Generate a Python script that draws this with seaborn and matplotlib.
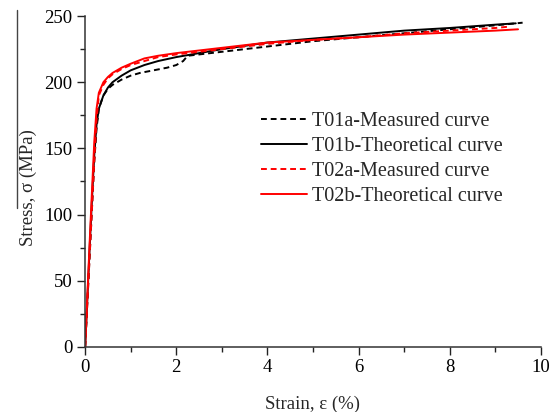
import matplotlib
matplotlib.use("Agg")
import matplotlib.pyplot as plt
from matplotlib.lines import Line2D
from matplotlib.ticker import MultipleLocator
import seaborn as sns
import pandas as pd

# T01a - measured (black dashed)
t01a_strain = [0, 0.05, 0.1, 0.15, 0.2, 0.25, 0.3, 0.4, 0.5, 0.6, 0.8, 1.0, 1.2, 1.5, 1.8,
               2.0, 2.15, 2.25, 2.5, 3.0, 3.5, 4.0, 5.0, 6.0, 7.0, 8.0, 9.0, 9.6]
t01a_stress = [0, 35, 70, 105, 140, 165, 180, 190, 195, 198, 202, 205, 207, 209, 211,
               213, 216, 220, 221, 223, 225, 227, 231, 234, 237, 240, 243, 245]

# T01b - theoretical (black solid)
t01b_strain = [0, 0.05, 0.1, 0.15, 0.2, 0.25, 0.3, 0.4, 0.5, 0.6, 0.8, 1.0, 1.3, 1.6,
               2.0, 2.5, 3.0, 4.0, 5.0, 6.0, 7.0, 8.0, 9.0, 9.45]
t01b_stress = [0, 38, 76, 112, 145, 168, 180, 190, 196, 200, 205, 209, 213, 216,
               219, 222, 225, 230, 233, 236, 239, 241, 243.5, 244.5]

# T02a - measured (red dashed)
t02a_strain = [0, 0.05, 0.1, 0.15, 0.2, 0.25, 0.3, 0.4, 0.5, 0.6, 0.8, 1.0, 1.3, 1.6,
               2.0, 2.5, 3.0, 4.0, 5.0, 6.0, 7.0, 8.0, 9.0, 9.3]
t02a_stress = [0, 35, 70, 105, 140, 172, 190, 198, 203, 206, 210, 213, 216, 219,
               221, 223, 225, 229, 232, 234, 237, 239, 241, 242]

# T02b - theoretical (red solid)
t02b_strain = [0, 0.05, 0.1, 0.15, 0.2, 0.25, 0.3, 0.4, 0.5, 0.6, 0.8, 1.0, 1.3, 1.6,
               2.0, 2.5, 3.0, 4.0, 5.0, 6.0, 7.0, 8.0, 9.0, 9.5]
t02b_stress = [0, 40, 80, 118, 155, 180, 192, 200, 204, 207, 211, 214, 218, 220,
               222, 224, 226, 230, 232, 234, 236, 237.5, 239, 240]

series = [
    ("T01a-Measured curve", t01a_strain, t01a_stress, "black", (0, (3, 2))),
    ("T01b-Theoretical curve", t01b_strain, t01b_stress, "black", "-"),
    ("T02a-Measured curve", t02a_strain, t02a_stress, "#ff0000", (0, (3, 2))),
    ("T02b-Theoretical curve", t02b_strain, t02b_stress, "#ff0000", "-"),
]

sns.set_style("ticks")
plt.rcParams["font.family"] = ["Liberation Serif", "DejaVu Serif"]

fig = plt.figure(figsize=(5.53, 4.12), dpi=100)
ax = fig.add_axes([0.154, 0.158, 0.824, 0.803])

for name, x, y, color, ls in series:
    df = pd.DataFrame({"strain": x, "stress": y})
    sns.lineplot(data=df, x="strain", y="stress", ax=ax, color=color,
                 linestyle=ls, linewidth=1.4, label=name, sort=False)

ax.set_xlim(0, 10)
ax.set_ylim(0, 250)
ax.xaxis.set_major_locator(MultipleLocator(2))
ax.xaxis.set_minor_locator(MultipleLocator(1))
ax.yaxis.set_major_locator(MultipleLocator(50))
ax.yaxis.set_minor_locator(MultipleLocator(25))
ax.tick_params(which="major", direction="out", length=6, width=1, labelsize=13.5,
               colors="#222222", labelcolor="black", pad=3)
ax.tick_params(which="minor", direction="out", length=3.5, width=1, colors="#222222")
sns.despine(ax=ax)
for s in ("left", "bottom"):
    ax.spines[s].set_linewidth(1.1)
    ax.spines[s].set_color("#333333")

ax.set_xlabel("Strain, ε (%)", fontsize=13.5, labelpad=14)
ax.set_ylabel("Stress, σ (MPa)", fontsize=13.5)
ax.yaxis.set_label_coords(-0.106, 0.483)

ax.legend(loc="upper left", bbox_to_anchor=(0.368, 0.735), frameon=False, fontsize=14.5,
          handlelength=2.3, handletextpad=0.25, labelspacing=0.3, borderaxespad=0)

# stray overline rule next to the y label, as in the source figure
fig.add_artist(Line2D([17 / 553, 17 / 553], [1 - 10 / 412, 1 - 208 / 412],
                      transform=fig.transFigure, color="#444444", linewidth=1))

fig.savefig("out.png", dpi=100)
